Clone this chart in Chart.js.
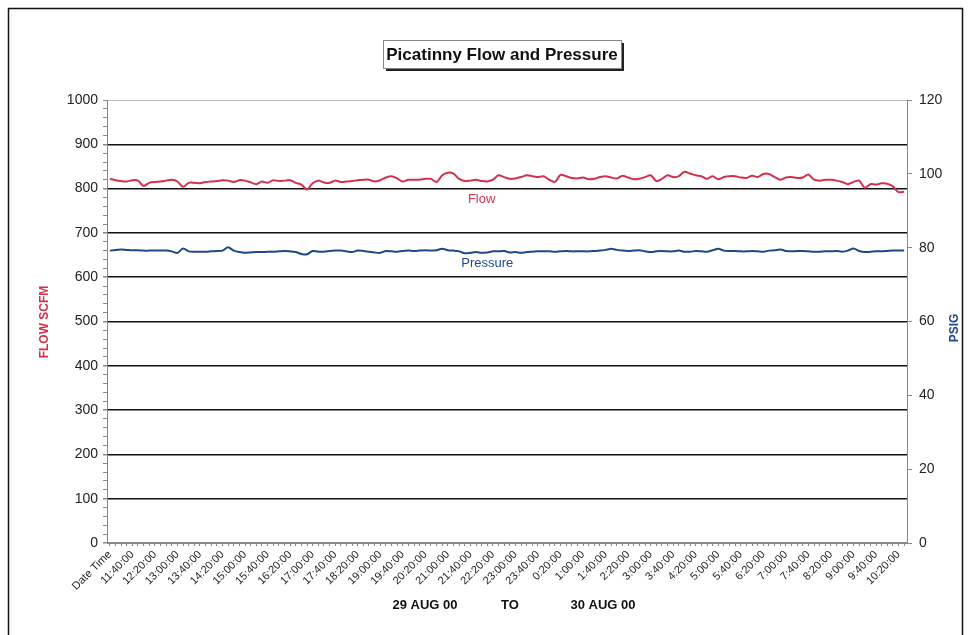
<!DOCTYPE html>
<html>
<head>
<meta charset="utf-8">
<title>Picatinny Flow and Pressure</title>
<script src="https://cdn.jsdelivr.net/npm/chart.js@4.4.1/dist/chart.umd.min.js"></script>
<style>
  html, body { margin: 0; padding: 0; background: #fff; }
  #wrap { width: 968px; height: 635px; }
</style>
</head>
<body>
<div id="wrap"><canvas id="chart" width="968" height="635"></canvas></div>
<script>
// readings every 10 minutes, 29 Aug 11:10 to 30 Aug 10:30
var flowScfm = [
    822, 819, 817, 816, 819, 818, 806, 813, 815, 816,
    818, 820, 816, 804, 813, 813, 812, 815, 816, 817,
    819, 818, 815, 819, 818, 814, 810, 816, 813, 819,
    817, 818, 819, 813, 809, 798, 812, 818, 814, 813,
    818, 815, 816, 817, 819, 820, 820, 816, 819, 825,
    828, 823, 816, 820, 820, 820, 822, 822, 815, 830,
    836, 834, 822, 817, 818, 820, 817, 816, 820, 830,
    826, 822, 823, 826, 830, 828, 826, 828, 820, 815,
    831, 828, 824, 823, 825, 821, 822, 826, 828, 825,
    823, 829, 825, 821, 822, 826, 830, 817, 822, 830,
    826, 828, 838, 834, 830, 828, 822, 828, 821, 826,
    828, 828, 825, 824, 829, 826, 833, 833, 826, 820,
    825, 826, 824, 825, 832, 820, 818, 820, 820, 818,
    815, 810, 815, 818, 802, 810, 809, 812, 811, 805,
    792, 793
];

var pressurePsig = [
    79.2, 79.4, 79.5, 79.4, 79.3, 79.3, 79.2, 79.2, 79.2, 79.2,
    79.2, 79.0, 78.6, 79.8, 79.0, 78.9, 78.9, 78.9, 79.0, 79.1,
    79.2, 80.1, 79.2, 78.8, 78.6, 78.7, 78.8, 78.8, 78.9, 78.9,
    79.0, 79.1, 79.0, 78.8, 78.3, 78.2, 79.1, 78.9, 78.9, 79.1,
    79.2, 79.2, 79.0, 78.8, 79.2, 79.1, 78.9, 78.7, 78.6, 79.1,
    79.0, 78.9, 79.1, 79.2, 79.1, 79.2, 79.3, 79.2, 79.3, 79.7,
    79.3, 79.2, 79.0, 78.5, 78.6, 78.8, 78.6, 78.7, 79.0, 79.0,
    79.1, 78.7, 78.8, 78.6, 78.8, 78.9, 79.0, 79.0, 79.0, 78.9,
    79.0, 79.1, 79.0, 79.0, 79.0, 79.0, 79.1, 79.2, 79.4, 79.7,
    79.4, 79.2, 79.1, 79.2, 79.3, 79.0, 78.8, 79.0, 79.1, 79.0,
    79.0, 79.2, 78.9, 78.9, 79.1, 79.0, 78.9, 79.3, 79.7, 79.2,
    79.1, 79.1, 79.0, 79.0, 79.1, 79.0, 78.9, 79.2, 79.3, 79.5,
    79.1, 79.0, 79.1, 79.1, 79.0, 78.9, 78.9, 79.0, 79.0, 79.1,
    78.9, 79.2, 79.8, 79.1, 78.8, 78.9, 79.0, 79.0, 79.1, 79.2,
    79.2, 79.2
];

// the axis shows one label every 4th reading (40 min)
var tickLabels = [
    'Date Time', '11:40:00', '12:20:00', '13:00:00', '13:40:00', '14:20:00',
    '15:00:00', '15:40:00', '16:20:00', '17:00:00', '17:40:00', '18:20:00',
    '19:00:00', '19:40:00', '20:20:00', '21:00:00', '21:40:00', '22:20:00',
    '23:00:00', '23:40:00', '0:20:00', '1:00:00', '1:40:00', '2:20:00',
    '3:00:00', '3:40:00', '4:20:00', '5:00:00', '5:40:00', '6:20:00',
    '7:00:00', '7:40:00', '8:20:00', '9:00:00', '9:40:00', '10:20:00'
];

var FONT = "'Liberation Sans', Arial, Helvetica, sans-serif";
var FLOW_RED = '#d3304c';
var PRESS_BLUE = '#1d4a84';

function buildCategories(n) {
    var cats = ['Date Time'];
    var mins = 11 * 60 + 10;
    for (var i = 1; i < n; i++) {
        var h = Math.floor(mins / 60) % 24;
        var m = mins % 60;
        cats.push(h + ':' + (m < 10 ? '0' + m : m) + ':00');
        mins += 10;
    }
    return cats;
}

var categories = buildCategories(flowScfm.length);

var decorPlugin = {
    id: 'decor',
    beforeDraw: function (chart) {
        var ctx = chart.ctx;
        ctx.save();
        ctx.fillStyle = '#fff';
        ctx.fillRect(0, 0, chart.width, chart.height);
        ctx.restore();
    },
    afterDraw: function (chart) {
        var ctx = chart.ctx;
        var xs = chart.scales.x;
        var ys = chart.scales.y;
        var yr = chart.scales.y1;
        ctx.save();

        // outer frame
        ctx.strokeStyle = '#111';
        ctx.lineWidth = 1.5;
        ctx.strokeRect(8.5, 8.5, 954, 640);

        // title box with shadow
        ctx.font = 'bold 17px ' + FONT;
        var title = 'Picatinny Flow and Pressure';
        var bx = 383, by = 40, bw = 238, bh = 28;
        ctx.fillStyle = '#222';
        ctx.fillRect(bx + 3, by + 3, bw, bh);
        ctx.fillStyle = '#fff';
        ctx.fillRect(bx, by, bw, bh);
        ctx.strokeStyle = '#888';
        ctx.lineWidth = 1;
        ctx.strokeRect(bx + 0.5, by + 0.5, bw, bh);
        ctx.fillStyle = '#111';
        ctx.textAlign = 'center';
        ctx.textBaseline = 'middle';
        ctx.fillText(title, bx + bw / 2, by + bh / 2 + 1);

        // axis titles
        ctx.font = 'bold 12px ' + FONT;
        ctx.fillStyle = FLOW_RED;
        ctx.save();
        ctx.translate(45, 322);
        ctx.rotate(-Math.PI / 2);
        ctx.fillText('FLOW SCFM', 0, 0);
        ctx.restore();
        ctx.fillStyle = PRESS_BLUE;
        ctx.save();
        ctx.translate(955, 328);
        ctx.rotate(-Math.PI / 2);
        ctx.fillText('PSIG', 0, 0);
        ctx.restore();

        // series names next to the lines
        ctx.font = '13px ' + FONT;
        ctx.fillStyle = FLOW_RED;
        ctx.fillText('Flow', xs.getPixelForValue(66), ys.getPixelForValue(775));
        ctx.fillStyle = PRESS_BLUE;
        ctx.fillText('Pressure', xs.getPixelForValue(67), yr.getPixelForValue(75.6));

        // date range under the axis
        ctx.font = 'bold 13px ' + FONT;
        ctx.fillStyle = '#111';
        ctx.fillText('29 AUG 00', 425, 605);
        ctx.fillText('TO', 510, 605);
        ctx.fillText('30 AUG 00', 603, 605);

        ctx.restore();
    }
};

function majorGrid(ctx) {
    var v = ctx.tick.value;
    if (v === 1000) return '#bbbbbb';
    if (v === 0) return '#888888';
    if (v % 100 === 0) return '#111111';
    return 'rgba(0,0,0,0)';
}

console.log('Creating chart...');
var chart = new Chart(document.getElementById('chart').getContext('2d'), {
    type: 'line',
    data: {
        labels: categories,
        datasets: [
            {
                label: 'Flow',
                data: flowScfm,
                yAxisID: 'y',
                borderColor: FLOW_RED,
                borderWidth: 2,
                pointRadius: 0,
                tension: 0.3,
                fill: false
            },
            {
                label: 'Pressure',
                data: pressurePsig,
                yAxisID: 'y1',
                borderColor: PRESS_BLUE,
                borderWidth: 2,
                pointRadius: 0,
                tension: 0.3,
                fill: false
            }
        ]
    },
    options: {
        responsive: false,
        animation: false,
        layout: { padding: { top: 100, left: 0, right: 0, bottom: 0 } },
        plugins: {
            legend: { display: false },
            title: { display: false },
            tooltip: { enabled: false }
        },
        scales: {
            x: {
                type: 'category',
                offset: true,
                afterFit: function (s) { s.height = 92; },
                ticks: {
                    autoSkip: false,
                    minRotation: 45,
                    maxRotation: 45,
                    padding: 2,
                    color: '#222',
                    font: { family: FONT, size: 11 },
                    callback: function (v, i) {
                        return i % 4 === 0 ? tickLabels[i / 4] : '';
                    }
                },
                grid: { drawOnChartArea: false, tickLength: 3, tickColor: '#888' },
                border: { color: '#888', width: 1 }
            },
            y: {
                position: 'left',
                min: 0,
                max: 1000,
                afterFit: function (s) { s.width = 107; },
                ticks: {
                    stepSize: 20,
                    autoSkip: false,
                    padding: 5,
                    color: '#222',
                    font: { family: FONT, size: 14 },
                    callback: function (v) { return v % 100 === 0 ? v : ''; }
                },
                grid: {
                    color: majorGrid,
                    lineWidth: function (ctx) { return ctx.tick.value % 100 === 0 && ctx.tick.value !== 1000 ? 1.5 : 1; },
                    tickColor: '#888',
                    tickLength: 4
                },
                border: { color: '#888', width: 1 }
            },
            y1: {
                position: 'right',
                min: 0,
                max: 120,
                afterFit: function (s) { s.width = 61; },
                ticks: {
                    stepSize: 20,
                    padding: 7,
                    color: '#222',
                    font: { family: FONT, size: 14 }
                },
                grid: { drawOnChartArea: false, tickLength: 5, tickColor: '#888' },
                border: { color: '#888', width: 1 }
            }
        }
    },
    plugins: [decorPlugin]
});
console.log('Chart area', chart.chartArea);
</script>
</body>
</html>
